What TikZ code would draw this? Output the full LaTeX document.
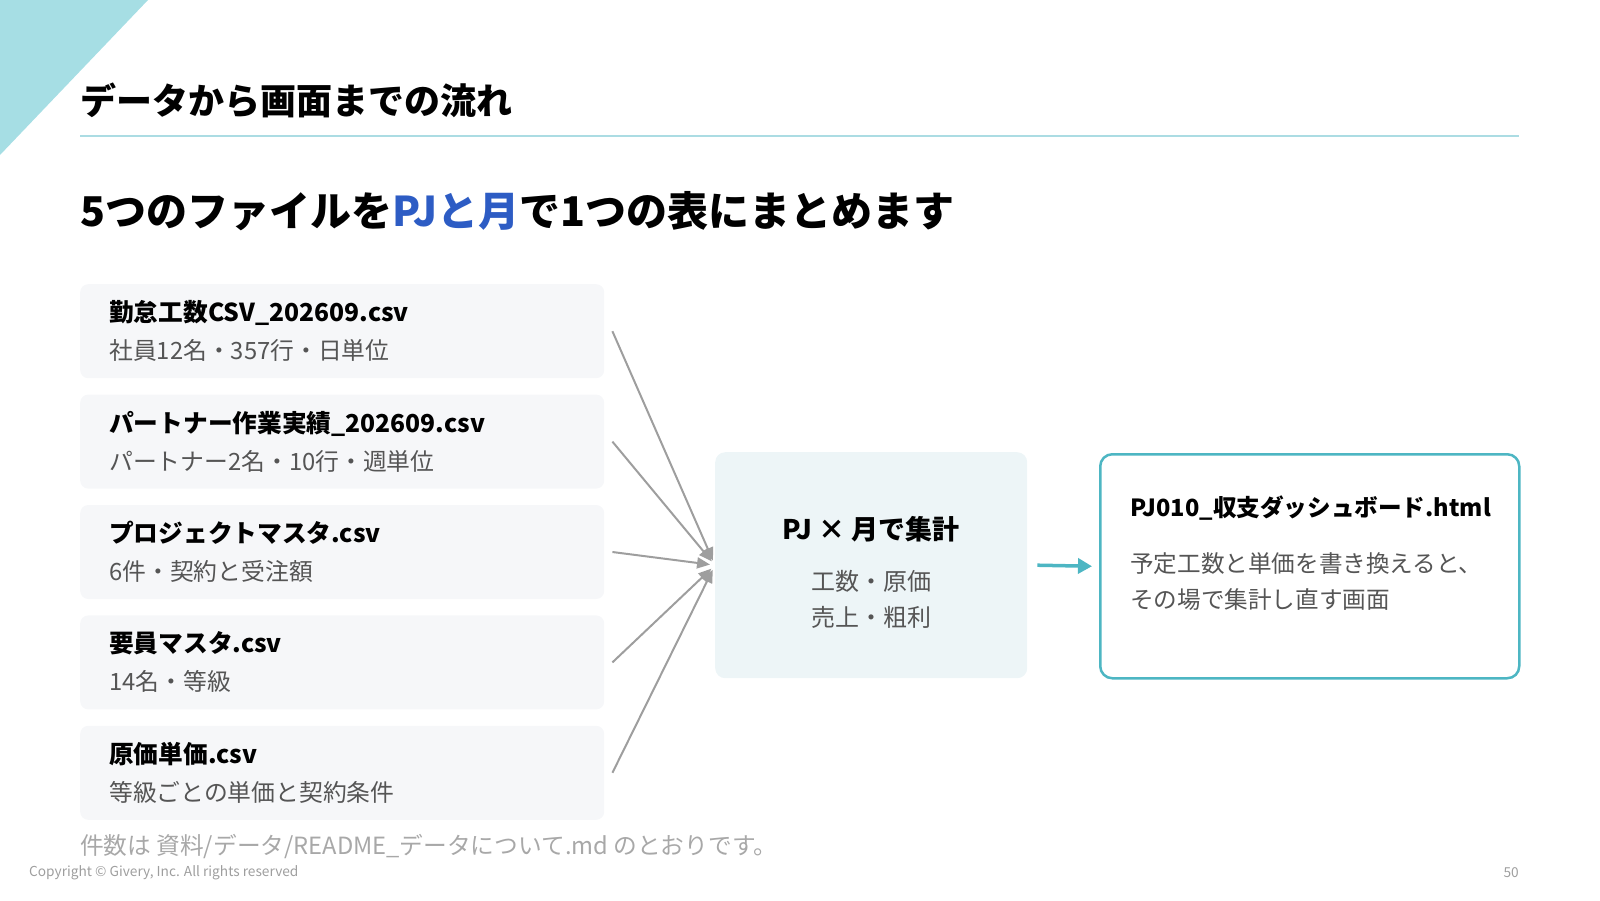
\documentclass[tikz,border=0pt]{standalone}
\usepackage{fontspec}
\setmainfont{Noto Sans CJK JP}
\usepackage{xcolor}
\usepackage{tikz}
\usetikzlibrary{positioning,arrows.meta}
\definecolor{band}{HTML}{A6DEE4}
\definecolor{rulec}{HTML}{ABDCE3}
\definecolor{keyblue}{HTML}{2D5CC4}
\definecolor{filebg}{HTML}{F6F7F9}
\definecolor{subtext}{HTML}{555555}
\definecolor{aggbg}{HTML}{EDF5F7}
\definecolor{tealc}{HTML}{4DB6C3}
\definecolor{feedc}{HTML}{9E9E9E}
\definecolor{notec}{HTML}{A8A8A8}
\newcommand{\ftl}[2][24.7]{{\fontsize{#1}{38}\selectfont\bfseries\color{black}#2}}
\newcommand{\fsb}[1]{{\color{subtext}#1}}

\begin{document}
\begin{tikzpicture}[
  x=1pt, y=-1pt,
  filebox/.style={fill=filebg, rounded corners=8pt, minimum height=94pt, text width=466pt,
    inner xsep=29pt, inner ysep=0pt, align=left, font=\fontsize{23.8}{38}\selectfont},
  aggbox/.style={fill=aggbg, rounded corners=10pt, minimum width=312pt, minimum height=226pt,
    align=center, font=\fontsize{24}{36}\selectfont},
  outbox/.style={draw=tealc, line width=2.5pt, fill=white, rounded corners=12pt,
    minimum width=419pt, minimum height=224pt},
  feed/.style={-{Triangle[length=13pt,width=11pt]}, feedc, line width=2pt, shorten >=5pt},
  go/.style={-{Triangle[length=14pt,width=15pt]}, tealc, line width=3.5pt},
]
\useasboundingbox (0,0) rectangle (1600,900);

% header
\fill[band] (0,0) -- (148,0) -- (0,155) -- cycle;
\node[anchor=west, inner sep=0pt, font=\fontsize{36}{40}\selectfont\bfseries] (title) at (80,100)
  {データから画面までの流れ};
\draw[rulec, line width=2pt] (80,136) -- (1519,136);
\node[anchor=west, inner sep=0pt, font=\fontsize{41}{46}\selectfont\bfseries] (lead) at (80,211)
  {5つのファイルを{\color{keyblue}PJと月}で1つの表にまとめます};

% files
\node[filebox, anchor=north west] (f1) at (80,284)
  {\ftl{勤怠工数CSV\_202609.csv}\\\fsb{社員12名・357行・日単位}};
\node[filebox, below=16pt of f1] (f2)
  {\ftl{パートナー作業実績\_202609.csv}\\\fsb{パートナー2名・10行・週単位}};
\node[filebox, below=16pt of f2] (f3)
  {\ftl{プロジェクトマスタ.csv}\\\fsb{6件・契約と受注額}};
\node[filebox, below=16pt of f3] (f4)
  {\ftl{要員マスタ.csv}\\\fsb{14名・等級}};
\node[filebox, below=16pt of f4] (f5)
  {\ftl{原価単価.csv}\\\fsb{等級ごとの単価と契約条件}};

% aggregation
\node[aggbox, anchor=north west] (agg) at (715,452) {};
\node[align=center, inner sep=0pt, font=\fontsize{24}{36}\selectfont] (aggtxt)
  at ([yshift=-7pt]agg.center)
  {\ftl[27]{PJ × 月で集計}\\[15pt]\fsb{工数・原価}\\\fsb{売上・粗利}};

\foreach \f in {f1,f2,f3,f4,f5}
  \draw[feed] ([xshift=8pt]\f.east) -- (agg.west);

% output
\node[outbox, anchor=north west] (out) at (1099,453) {};
\node[anchor=west, inner sep=0pt, align=left, font=\fontsize{23.6}{36}\selectfont] (outtxt)
  at ([xshift=31pt, yshift=13pt]out.west)
  {\ftl[23.6]{PJ010\_収支ダッシュボード.html}\\[20pt]\fsb{予定工数と単価を書き換えると、}\\\fsb{その場で集計し直す画面}};

\draw[go] ([xshift=10pt]agg.east) -- ([xshift=-7pt]out.west);

% footer
\node[anchor=west, inner sep=0pt, text=notec, font=\fontsize{23.7}{26}\selectfont] (note) at (80,847)
  {件数は 資料/データ/README\_データについて.md のとおりです。};
\node[anchor=west, inner sep=0pt, text=feedc, font=\fontsize{13.7}{15}\selectfont] (copy) at (29,873)
  {Copyright © Givery, Inc. All rights reserved};
\node[anchor=east, inner sep=0pt, text=feedc, font=\fontsize{13.7}{15}\selectfont] (page) at (1519,873)
  {50};
\end{tikzpicture}
\end{document}
